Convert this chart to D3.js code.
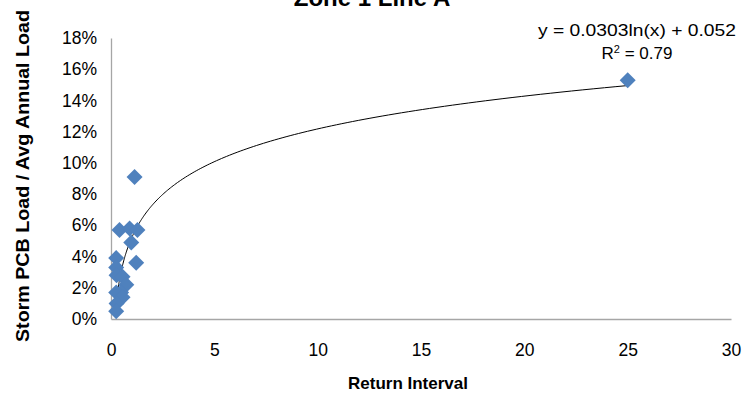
<!DOCTYPE html>
<html>
<head>
<meta charset="utf-8">
<script src="https://cdn.jsdelivr.net/npm/d3@7"></script>
<style>
  body { margin: 0; background: #fff; }
  text { font-family: "Liberation Sans", Arial, sans-serif; fill: #000; }
</style>
</head>
<body>
<script>
// storm events: return interval (yr) vs storm load / avg annual load
const returnInterval = [1.14, 0.41, 0.9, 1.28, 0.98, 1.22, 0.25, 0.25, 0.27, 0.56, 0.74, 0.49, 0.25, 0.56, 0.27, 0.25, 25]
const loadRatio = [0.091, 0.057, 0.058, 0.057, 0.049, 0.036, 0.039, 0.033, 0.028, 0.027, 0.022, 0.017, 0.017, 0.014, 0.010, 0.005, 0.153]
const xTicks = [0, 5, 10, 15, 20, 25, 30]
const yTicks = [0, 0.02, 0.04, 0.06, 0.08, 0.10, 0.12, 0.14, 0.16, 0.18]
const trendA = 0.0303, trendB = 0.052
const trendRange = [0.25, 25]

const W = 744, H = 394
const svg = d3.select("body").append("svg")
    .attr("width", W).attr("height", H)

const x = d3.scaleLinear().domain([0, 30]).range([111, 731])
const y = d3.scaleLinear().domain([0, 0.18]).range([319, 38])

// axes
const gx = svg.append("g").attr("transform", `translate(0,${y(0)})`)
    .call(d3.axisBottom(x).tickValues(xTicks).tickSize(0).tickPadding(25))
const gy = svg.append("g").attr("transform", `translate(${x(0)},0)`)
    .call(d3.axisLeft(y).tickValues(yTicks).tickSize(0).tickPadding(14)
        .tickFormat(d3.format(".0%")))
gx.select(".domain").attr("stroke", "#A6A6A6").attr("stroke-width", 1.3)
gy.select(".domain").attr("stroke", "#A6A6A6").attr("stroke-width", 1.3)
svg.selectAll(".tick text")
    .attr("font-size", 17.5)
    .attr("font-family", "Liberation Sans, Arial, sans-serif")
    .attr("fill", "#000")

// trendline
const trendPts = d3.range(0, 201).map(i => {
    const t = trendRange[0] * Math.pow(trendRange[1] / trendRange[0], i / 200)
    return [t, trendA * Math.log(t) + trendB]
})
svg.append("path")
    .datum(trendPts)
    .attr("fill", "none")
    .attr("stroke", "#000")
    .attr("stroke-width", 1)
    .attr("d", d3.line().x(d => x(d[0])).y(d => y(d[1])))

// markers
const r = 8
svg.append("g").selectAll("path")
    .data(returnInterval.map((d, i) => [d, loadRatio[i]]))
    .join("path")
    .attr("transform", d => `translate(${x(d[0])},${y(d[1])})`)
    .attr("d", `M0,${-r}L${r},0L0,${r}L${-r},0Z`)
    .attr("fill", "#4F81BD")

// title (clipped at top, as in the source)
svg.append("text")
    .attr("x", 372).attr("y", 6)
    .attr("text-anchor", "middle")
    .attr("font-size", 24).attr("font-weight", "bold")
    .text("Zone 1 Line A")

// trend equation
svg.append("text")
    .attr("x", 637).attr("y", 36)
    .attr("text-anchor", "middle").attr("font-size", 17)
    .attr("textLength", 198).attr("lengthAdjust", "spacingAndGlyphs")
    .text("y = 0.0303ln(x) + 0.052")
svg.append("text")
    .attr("x", 637).attr("y", 59)
    .attr("text-anchor", "middle").attr("font-size", 17)
    .html("R<tspan baseline-shift='super' font-size='11'>2</tspan> = 0.79")

// axis titles
svg.append("text")
    .attr("x", 408).attr("y", 389)
    .attr("text-anchor", "middle")
    .attr("font-size", 17).attr("font-weight", "bold")
    .text("Return Interval")
svg.append("text")
    .attr("transform", "translate(29,176) rotate(-90)")
    .attr("text-anchor", "middle")
    .attr("font-size", 18).attr("font-weight", "bold")
    .attr("textLength", 332).attr("lengthAdjust", "spacingAndGlyphs")
    .text("Storm PCB Load / Avg Annual Load")
</script>
</body>
</html>
